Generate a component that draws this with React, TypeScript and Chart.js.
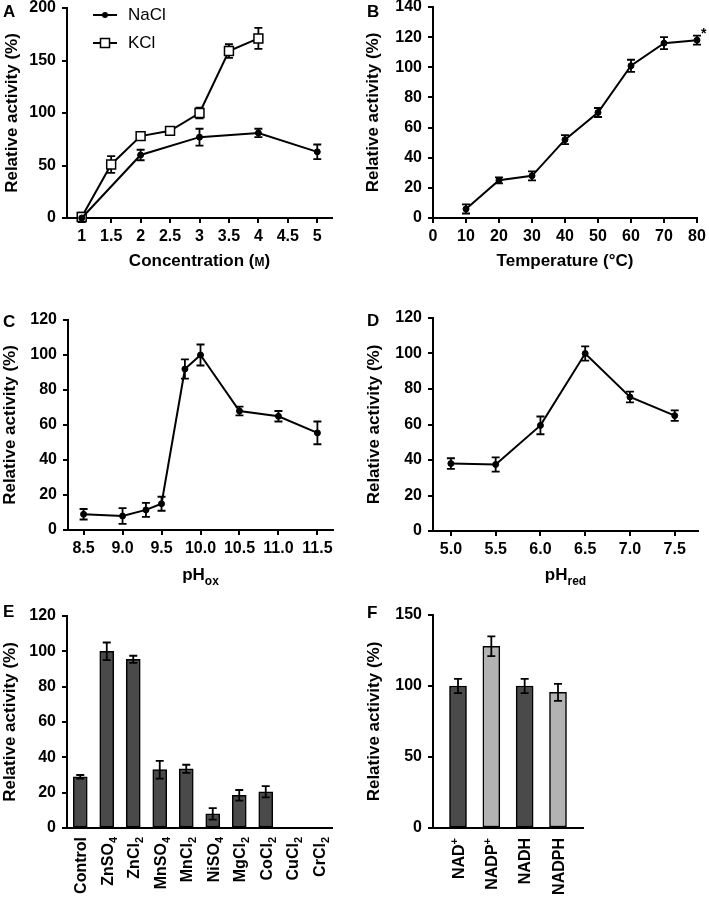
import React, { useEffect, useRef } from 'react';
import { Chart, registerables } from 'chart.js';

Chart.register(...registerables);

const FONT = '"Liberation Sans", Arial, Helvetica, sans-serif';

// ---------------- data ----------------
// Panel A – salt concentration
const concTicks = [1, 1.5, 2, 2.5, 3, 3.5, 4, 4.5, 5];
const naclConc = [1, 2, 3, 4, 5];
const naclActivity = [0, 60, 77, 81, 63];
const naclError = [4, 5, 8, 4, 7];
const kclConc = [1, 1.5, 2, 2.5, 3, 3.5, 4];
const kclActivity = [1, 51, 78, 83, 100, 159, 171];
const kclError = [4, 8, 3.5, 3, 5, 6.5, 10];

// Panel B – temperature
const tempTicks = [0, 10, 20, 30, 40, 50, 60, 70, 80];
const temperatures = [10, 20, 30, 40, 50, 60, 70, 80];
const tempActivity = [6, 25, 28, 52, 70, 101, 116, 118];
const tempError = [3, 2, 3, 3, 3, 4, 4, 3];

// Panel C – pH (oxidation)
const phOxTicks = [8.5, 9.0, 9.5, 10.0, 10.5, 11.0, 11.5];
const phOxValues = [8.5, 9.0, 9.3, 9.5, 9.8, 10.0, 10.5, 11.0, 11.5];
const phOxActivity = [9, 8, 11.5, 15, 92, 100, 68, 65, 55.5];
const phOxError = [3, 4.5, 4, 4, 5.5, 6, 2.5, 3, 6.5];

// Panel D – pH (reduction)
const phRedTicks = [5.0, 5.5, 6.0, 6.5, 7.0, 7.5];
const phRedValues = [5.0, 5.5, 6.0, 6.5, 7.0, 7.5];
const phRedActivity = [38, 37.5, 59.5, 100, 75.5, 65];
const phRedError = [3, 4, 5, 4, 3, 3];

// Panel E – metal ions
const metalLabels = ['Control', 'ZnSO_{4}', 'ZnCl_{2}', 'MnSO_{4}', 'MnCl_{2}', 'NiSO_{4}', 'MgCl_{2}', 'CoCl_{2}', 'CuCl_{2}', 'CrCl_{2}'];
const metalActivity = [29, 100, 95.5, 33, 33.5, 8, 18.5, 20.5, 0, 0];
const metalError = [1, 5, 2, 5, 2.3, 3.3, 3, 3.2, 0, 0];

// Panel F – cofactors
const cofactorLabels = ['NAD^{+}', 'NADP^{+}', 'NADH', 'NADPH'];
const cofactorPos = [0, 1, 2, 3];
const cofactorActivity = [100, 128, 100, 95.5];
const cofactorError = [5, 7, 5, 6];

// ---------------- helpers ----------------
type Geom = { x0: number; y0: number; w: number; h: number; l: number; t: number; r: number; b: number };

const tickFont = { family: FONT, size: 16, weight: 'bold' as const };

type Run = { text: string; kind: 'n' | 'sub' | 'sup' | 'sc' };
function parseRich(s: string): Run[] {
  const runs: Run[] = [];
  const re = /([_^~])\{([^}]*)\}/g;
  let last = 0;
  let m: RegExpExecArray | null;
  while ((m = re.exec(s))) {
    if (m.index > last) runs.push({ text: s.slice(last, m.index), kind: 'n' });
    runs.push({ text: m[2], kind: m[1] === '_' ? 'sub' : m[1] === '^' ? 'sup' : 'sc' });
    last = re.lastIndex;
  }
  if (last < s.length) runs.push({ text: s.slice(last), kind: 'n' });
  return runs;
}

function drawRich(ctx: CanvasRenderingContext2D, s: string, x: number, y: number, size: number, align: 'center' | 'right' | 'left') {
  const runs = parseRich(s).map((r) => {
    const sz = r.kind === 'n' ? size : r.kind === 'sc' ? Math.round(size * 0.72) : Math.round(size * 0.7);
    const dy = r.kind === 'sub' ? size * 0.28 : r.kind === 'sup' ? -size * 0.38 : 0;
    ctx.font = `bold ${sz}px ${FONT}`;
    return { ...r, sz, dy, w: ctx.measureText(r.text).width };
  });
  const total = runs.reduce((a, r) => a + r.w, 0);
  let cx = align === 'center' ? x - total / 2 : align === 'right' ? x - total : x;
  ctx.textAlign = 'left';
  ctx.textBaseline = 'alphabetic';
  for (const r of runs) {
    ctx.font = `bold ${r.sz}px ${FONT}`;
    ctx.fillText(r.text, cx, y + r.dy);
    cx += r.w;
  }
}

const errorBarPlugin = {
  id: 'errorBars',
  beforeDatasetsDraw(chart: any) {
    drawErrors(chart, 'before');
  },
  afterDatasetsDraw(chart: any) {
    drawErrors(chart, 'after');
  },
};

function drawErrors(chart: any, phase: string) {
  const ctx: CanvasRenderingContext2D = chart.ctx;
  const ys = chart.scales.y;
  chart.data.datasets.forEach((ds: any, di: number) => {
    if (!ds.errors || (ds.errorPhase || 'before') !== phase) return;
    const meta = chart.getDatasetMeta(di);
    meta.data.forEach((el: any, i: number) => {
      const e = ds.errors[i];
      if (!e) return;
      const d = ds.data[i];
      const v = typeof d === 'number' ? d : d.y;
      const yTop = ys.getPixelForValue(v + e);
      const yBot = ys.getPixelForValue(v - e);
      const cap = 4;
      ctx.save();
      ctx.strokeStyle = '#000';
      ctx.lineWidth = 1.8;
      ctx.beginPath();
      ctx.moveTo(el.x, yTop);
      ctx.lineTo(el.x, yBot);
      ctx.moveTo(el.x - cap, yTop);
      ctx.lineTo(el.x + cap, yTop);
      ctx.moveTo(el.x - cap, yBot);
      ctx.lineTo(el.x + cap, yBot);
      ctx.stroke();
      ctx.restore();
    });
  });
}

type Decor = {
  letter: string;
  letterX: number;
  letterY: number;
  yTitleX: number;
  xTitle?: string;
  xTitleY?: number;
  xLabels?: string[];
  xLabelGap?: number;
  legend?: boolean;
  asterisk?: { x: number; y: number };
};

function makeDecor(g: Geom, d: Decor) {
  return {
    id: 'decor',
    afterDraw(chart: any) {
      const ctx: CanvasRenderingContext2D = chart.ctx;
      const a = chart.chartArea;
      const ox = g.x0;
      const oy = g.y0;
      ctx.save();
      ctx.fillStyle = '#000';
      ctx.strokeStyle = '#000';
      // panel letter
      ctx.font = `bold 17px ${FONT}`;
      ctx.textAlign = 'left';
      ctx.textBaseline = 'alphabetic';
      ctx.fillText(d.letter, d.letterX - ox, d.letterY - oy);
      // y title
      ctx.save();
      ctx.translate(d.yTitleX - ox, (a.top + a.bottom) / 2);
      ctx.rotate(-Math.PI / 2);
      ctx.font = `bold 17px ${FONT}`;
      ctx.textAlign = 'center';
      ctx.textBaseline = 'middle';
      ctx.fillText('Relative activity (%)', 0, 0);
      ctx.restore();
      // x title
      if (d.xTitle && d.xTitleY !== undefined) {
        drawRich(ctx, d.xTitle, (a.left + a.right) / 2, d.xTitleY - oy, 17, 'center');
      }
      // rotated category labels
      if (d.xLabels) {
        const xs = chart.scales.x;
        d.xLabels.forEach((lab, i) => {
          const px = xs.getPixelForValue(i);
          ctx.save();
          ctx.translate(px, a.bottom + (d.xLabelGap || 6));
          ctx.rotate(-Math.PI / 2);
          drawRich(ctx, lab, 0, 16 * 0.36, 16, 'right');
          ctx.restore();
        });
      }
      // legend (panel A)
      if (d.legend) {
        const items = [
          { label: 'NaCl', y: 15, square: false },
          { label: 'KCl', y: 43, square: true },
        ];
        for (const it of items) {
          const y = it.y - oy;
          ctx.lineWidth = 2;
          ctx.beginPath();
          ctx.moveTo(93 - ox, y);
          ctx.lineTo(117 - ox, y);
          ctx.stroke();
          if (it.square) {
            ctx.fillStyle = '#fff';
            ctx.fillRect(105 - ox - 4.5, y - 4.5, 9, 9);
            ctx.lineWidth = 1.5;
            ctx.strokeRect(105 - ox - 4.5, y - 4.5, 9, 9);
            ctx.fillStyle = '#000';
          } else {
            ctx.beginPath();
            ctx.arc(105 - ox, y, 3, 0, Math.PI * 2);
            ctx.fill();
          }
          ctx.font = `17px ${FONT}`;
          ctx.textAlign = 'left';
          ctx.textBaseline = 'middle';
          ctx.fillText(it.label, 128 - ox, y);
        }
      }
      if (d.asterisk) {
        ctx.font = `bold 14px ${FONT}`;
        ctx.textAlign = 'left';
        ctx.textBaseline = 'alphabetic';
        ctx.fillText('*', d.asterisk.x - ox, d.asterisk.y - oy);
      }
      ctx.restore();
    },
  };
}

const gridOpts = { display: true, drawOnChartArea: false, drawTicks: true, tickLength: 5, color: '#000', lineWidth: 2 };
const borderOpts = { display: true, color: '#000', width: 2 };

function yAxis(g: Geom, max: number, step: number) {
  return {
    type: 'linear',
    min: 0,
    max,
    ticks: { stepSize: step, font: tickFont, color: '#000', padding: 6 },
    grid: gridOpts,
    border: borderOpts,
    afterFit: (s: any) => {
      s.width = g.l - g.x0;
      s.paddingTop = 0;
      s.paddingBottom = 0;
    },
  };
}

function xLinearAxis(g: Geom, min: number, max: number, ticks: number[], digits: number | null) {
  return {
    type: 'linear',
    min,
    max,
    afterBuildTicks: (ax: any) => {
      ax.ticks = ticks.map((v) => ({ value: v }));
    },
    ticks: {
      font: tickFont,
      color: '#000',
      padding: 4,
      autoSkip: false,
      maxRotation: 0,
      minRotation: 0,
      callback: (v: number) => (digits === null ? String(v) : Number(v).toFixed(digits)),
    },
    grid: gridOpts,
    border: borderOpts,
    afterFit: (s: any) => {
      s.height = g.y0 + g.h - g.b;
      s.paddingLeft = 0;
      s.paddingRight = 0;
    },
  };
}

function baseOptions(g: Geom) {
  return {
    responsive: false,
    animation: false,
    layout: { padding: { left: 0, top: g.t - g.y0, right: g.x0 + g.w - g.r, bottom: 0 } },
    plugins: { legend: { display: false }, tooltip: { enabled: false } },
  };
}

function lineDataset(xs: number[], ys: number[], errs: number[], square: boolean) {
  return {
    data: xs.map((x, i) => ({ x, y: ys[i] })),
    errors: errs,
    errorPhase: 'before',
    borderColor: '#000',
    borderWidth: 2,
    pointStyle: square ? 'rect' : 'circle',
    pointRadius: square ? 6.3 : 3,
    pointBackgroundColor: square ? '#fff' : '#000',
    pointBorderColor: '#000',
    pointBorderWidth: square ? 1.5 : 1,
    tension: 0,
    fill: false,
    clip: false,
  };
}

// ---------------- panel definitions ----------------
const gA: Geom = { x0: 0, y0: 0, w: 355, h: 290, l: 67, t: 8, r: 332, b: 218 };
const gB: Geom = { x0: 355, y0: 0, w: 354, h: 290, l: 433, t: 7, r: 697, b: 218 };
const gC: Geom = { x0: 0, y0: 295, w: 355, h: 295, l: 68, t: 320, r: 333, b: 530 };
const gD: Geom = { x0: 355, y0: 295, w: 354, h: 295, l: 433, t: 318, r: 698, b: 531 };
const gE: Geom = { x0: 0, y0: 590, w: 355, h: 308, l: 67, t: 616, r: 332, b: 828 };
const gF: Geom = { x0: 355, y0: 590, w: 354, h: 308, l: 433, t: 615, r: 583, b: 828 };

function configA(): any {
  return {
    type: 'line',
    data: {
      datasets: [
        lineDataset(naclConc, naclActivity, naclError, false),
        lineDataset(kclConc, kclActivity, kclError, true),
      ],
    },
    options: { ...baseOptions(gA), scales: { x: xLinearAxis(gA, 0.75, 5.25, concTicks, null), y: yAxis(gA, 200, 50) } },
    plugins: [errorBarPlugin, makeDecor(gA, { letter: 'A', letterX: 3, letterY: 17, yTitleX: 12, xTitle: 'Concentration (~{M})', xTitleY: 266, legend: true })],
  };
}

function configB(): any {
  return {
    type: 'line',
    data: { datasets: [lineDataset(temperatures, tempActivity, tempError, false)] },
    options: { ...baseOptions(gB), scales: { x: xLinearAxis(gB, 0, 80, tempTicks, null), y: yAxis(gB, 140, 20) } },
    plugins: [errorBarPlugin, makeDecor(gB, { letter: 'B', letterX: 367, letterY: 17, yTitleX: 373, xTitle: 'Temperature (°C)', xTitleY: 266, asterisk: { x: 701, y: 38 } })],
  };
}

function configC(): any {
  return {
    type: 'line',
    data: { datasets: [lineDataset(phOxValues, phOxActivity, phOxError, false)] },
    options: { ...baseOptions(gC), scales: { x: xLinearAxis(gC, 8.3, 11.7, phOxTicks, 1), y: yAxis(gC, 120, 20) } },
    plugins: [errorBarPlugin, makeDecor(gC, { letter: 'C', letterX: 3, letterY: 327, yTitleX: 10, xTitle: 'pH_{ox}', xTitleY: 580 })],
  };
}

function configD(): any {
  return {
    type: 'line',
    data: { datasets: [lineDataset(phRedValues, phRedActivity, phRedError, false)] },
    options: { ...baseOptions(gD), scales: { x: xLinearAxis(gD, 4.8, 7.76, phRedTicks, 1), y: yAxis(gD, 120, 20) } },
    plugins: [errorBarPlugin, makeDecor(gD, { letter: 'D', letterX: 367, letterY: 326, yTitleX: 374, xTitle: 'pH_{red}', xTitleY: 580 })],
  };
}

function configE(): any {
  return {
    type: 'bar',
    data: {
      labels: metalLabels,
      datasets: [
        {
          data: metalActivity,
          errors: metalError,
          errorPhase: 'after',
          backgroundColor: '#4a4a4a',
          borderColor: '#000',
          borderWidth: 1.5,
          borderSkipped: false,
          barThickness: 14,
          clip: false,
        },
      ],
    },
    options: {
      ...baseOptions(gE),
      scales: {
        x: {
          type: 'category',
          offset: true,
          ticks: { display: false },
          grid: { display: false },
          border: borderOpts,
          afterFit: (s: any) => {
            s.height = gE.y0 + gE.h - gE.b;
            s.paddingLeft = 0;
            s.paddingRight = 0;
          },
        },
        y: yAxis(gE, 120, 20),
      },
    },
    plugins: [errorBarPlugin, makeDecor(gE, { letter: 'E', letterX: 3, letterY: 617, yTitleX: 10, xLabels: metalLabels, xLabelGap: 9 })],
  };
}

function configF(): any {
  return {
    type: 'bar',
    data: {
      datasets: [
        {
          data: cofactorPos.map((x, i) => ({ x, y: cofactorActivity[i] })),
          errors: cofactorError,
          errorPhase: 'after',
          backgroundColor: ['#4a4a4a', '#b3b3b3', '#4a4a4a', '#b3b3b3'],
          borderColor: '#000',
          borderWidth: 1.5,
          borderSkipped: false,
          barThickness: 17,
          clip: false,
        },
      ],
    },
    options: {
      ...baseOptions(gF),
      scales: {
        x: {
          type: 'linear',
          min: -0.75,
          max: 3.75,
          offset: false,
          ticks: { display: false },
          grid: { display: false, offset: false },
          border: borderOpts,
          afterFit: (s: any) => {
            s.height = gF.y0 + gF.h - gF.b;
            s.paddingLeft = 0;
            s.paddingRight = 0;
          },
        },
        y: yAxis(gF, 150, 50),
      },
    },
    plugins: [errorBarPlugin, makeDecor(gF, { letter: 'F', letterX: 367, letterY: 618, yTitleX: 374, xLabels: cofactorLabels, xLabelGap: 10 })],
  };
}

function Panel({ g, make }: { g: Geom; make: () => any }) {
  const ref = useRef<HTMLCanvasElement>(null);
  useEffect(() => {
    if (!ref.current) return;
    const chart = new Chart(ref.current, make());
    return () => chart.destroy();
  }, []);
  return (
    <canvas
      ref={ref}
      width={g.w}
      height={g.h}
      style={{ position: 'absolute', left: g.x0, top: g.y0, width: g.w, height: g.h }}
    />
  );
}

export default function App() {
  return (
    <div style={{ position: 'absolute', left: 0, top: 0, width: 709, height: 898, background: '#fff', overflow: 'hidden' }}>
      <Panel g={gA} make={configA} />
      <Panel g={gB} make={configB} />
      <Panel g={gC} make={configC} />
      <Panel g={gD} make={configD} />
      <Panel g={gE} make={configE} />
      <Panel g={gF} make={configF} />
    </div>
  );
}
